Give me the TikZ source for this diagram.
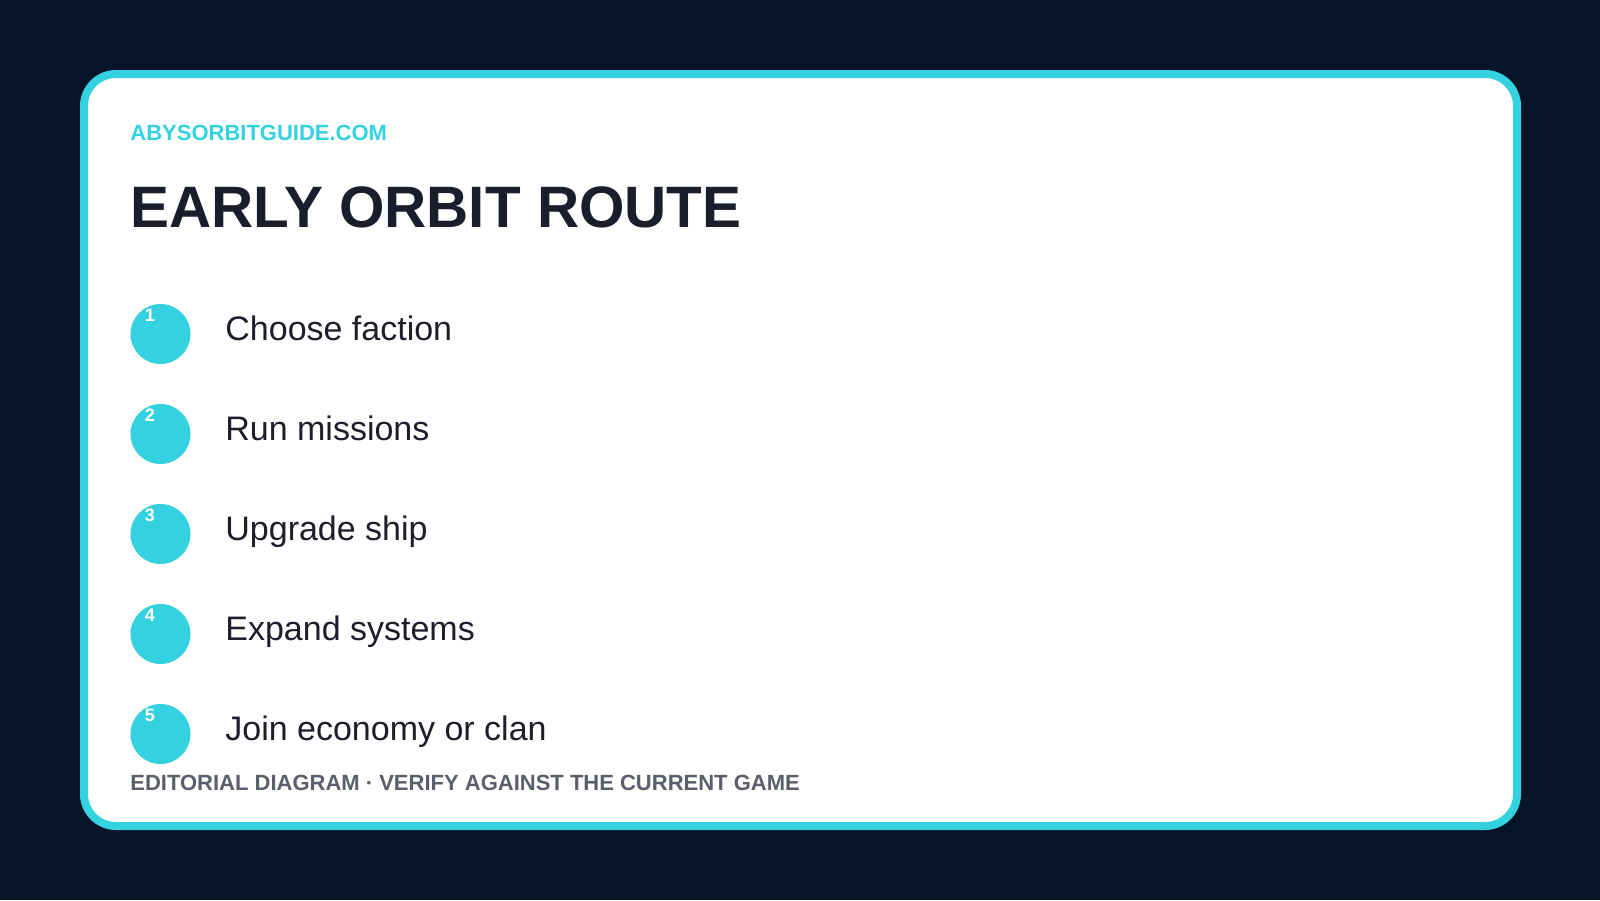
\documentclass[tikz,border=0pt]{standalone}
\usepackage{fontspec}
\setmainfont{Liberation Sans}
\usepackage{tikz}

\definecolor{bgnavy}{HTML}{061428}
\definecolor{orbitcyan}{HTML}{34D1E0}
\definecolor{titleink}{HTML}{1A1D2B}
\definecolor{stepink}{HTML}{1C1F2A}
\definecolor{noteink}{HTML}{5B5E6B}

\tikzset{
  stepdot/.style={circle, fill=orbitcyan, minimum size=30pt, inner sep=0pt},
  stepnum/.style={anchor=base, inner sep=0pt, text=white, font=\fontsize{9}{10}\selectfont\bfseries},
  steptext/.style={anchor=base west, inner sep=0pt, text=stepink, font=\fontsize{17}{20}\selectfont},
}

\begin{document}
\begin{tikzpicture}[x=0.5pt, y=-0.5pt]
% \draw[step=100, gray, very thin] (0,0) grid (1600,900);
\useasboundingbox (0,0) rectangle (1600,900);
\fill[bgnavy] (0,0) rectangle (1600,900);
% the card
\draw[line width=4pt, orbitcyan, fill=white, rounded corners=16pt] (84,74) rectangle (1517,826);
% heading
\node[anchor=base west, inner sep=0pt, text=orbitcyan, font=\fontsize{11}{13}\selectfont\bfseries] (site) at (130,140) {ABYSORBITGUIDE.COM};
\node[anchor=base west, inner sep=0pt, text=titleink, font=\fontsize{29.2}{34}\selectfont\bfseries] (title) at (130,227) {EARLY ORBIT ROUTE};
% five steps
\node[stepdot] (dot1) at (160.5,334) {};
\node[stepnum] (num1) at (150,321) {1};
\node[steptext] (step1) at (225,340) {Choose faction};
\node[stepdot] (dot2) at (160.5,434) {};
\node[stepnum] (num2) at (150,421) {2};
\node[steptext] (step2) at (225,440) {Run missions};
\node[stepdot] (dot3) at (160.5,534) {};
\node[stepnum] (num3) at (150,521) {3};
\node[steptext] (step3) at (225,540) {Upgrade ship};
\node[stepdot] (dot4) at (160.5,634) {};
\node[stepnum] (num4) at (150,621) {4};
\node[steptext] (step4) at (225,640) {Expand systems};
\node[stepdot] (dot5) at (160.5,734) {};
\node[stepnum] (num5) at (150,721) {5};
\node[steptext] (step5) at (225,740) {Join economy or clan};
% end of steps
\node[anchor=base west, inner sep=0pt, text=noteink, font=\fontsize{11}{13}\selectfont\bfseries] (note) at (130,790) {EDITORIAL DIAGRAM · VERIFY AGAINST THE CURRENT GAME};
\end{tikzpicture}
\end{document}
